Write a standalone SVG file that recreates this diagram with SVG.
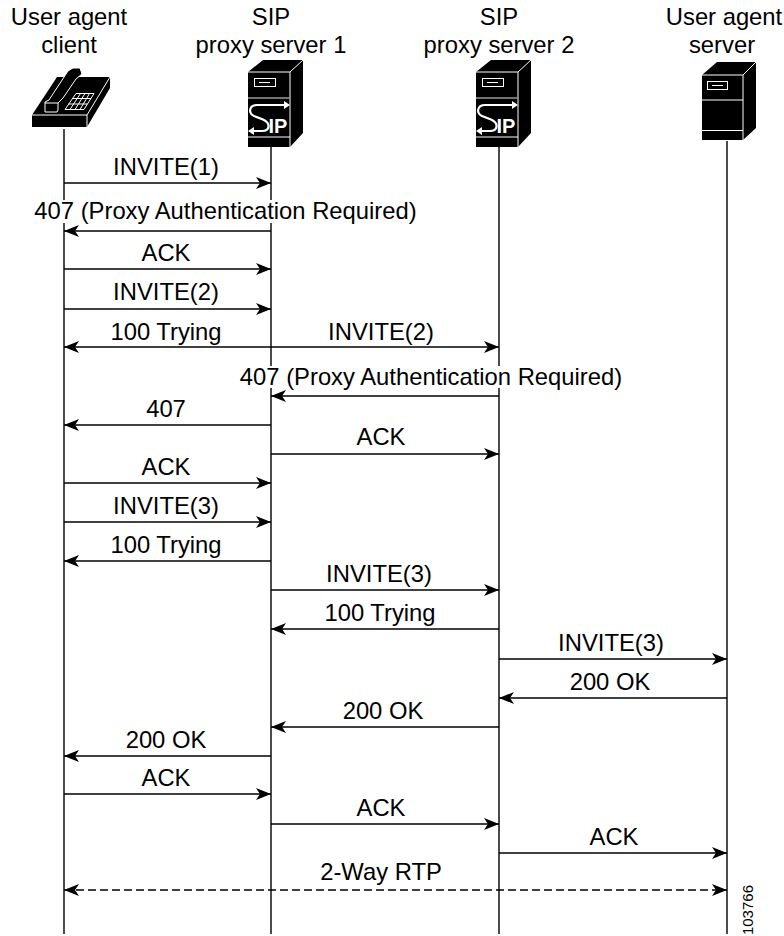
<svg xmlns="http://www.w3.org/2000/svg" xmlns:xlink="http://www.w3.org/1999/xlink" width="784" height="936" viewBox="0 0 784 936">
<style>
text{font-family:"Liberation Sans",Arial,sans-serif;font-size:23.800px;fill:#000;text-anchor:middle}
.life{stroke:#000;stroke-width:1.400;fill:none}
.msg{stroke:#000;stroke-width:1.400;fill:none;marker-end:url(#ah)}
.both{marker-start:url(#ah)}
.dash{stroke-dasharray:8 4}
.w{stroke:#fff;fill:none}
.k{fill:#000}
</style>
<defs>
<marker id="ah" markerUnits="userSpaceOnUse" markerWidth="16" markerHeight="14" refX="15" refY="7" orient="auto-start-reverse"><path d="M15,7 L0,1 L4,7 L0,13Z" fill="#000"/></marker>
<g id="sipserver">
<path class="k" d="M248,72 L263,60 L303,60 L303,133 L290,147 L248,147Z"/>
<path class="w" stroke-width="1" d="M248,72 H290 L303,60 M290,72 V147"/>
<rect class="w" stroke-width="1" x="254.500" y="78.500" width="21" height="8"/>
<path class="w" stroke-width="1" d="M259,82.500 H270"/>
<path stroke="#999" stroke-width="1.500" fill="none" d="M248,98 H290"/>
<path class="w" stroke-width="1" d="M248,137 H290"/>
<path class="w" stroke-width="2.200" d="M286,105 H257 C249,105 248,113 254,116 L263,119.500 C271,123 270,131 262,131 H252"/>
<path fill="#fff" d="M290,105 L284,101 V109Z M248,131 L254,127 V135Z"/>
<text x="278" y="132.500" style="font-size:20px;fill:#fff;font-weight:bold">IP</text>
</g>
</defs>
<rect width="784" height="936" fill="#fff"/>
<g id="connectors">
<path class="life" d="M64,129 V934 M271,147 V934 M499,147 V934 M727,141 V934"/>
<path class="msg" d="M64,183 H271"/>
<path class="msg" d="M271,231 H64"/>
<path class="msg" d="M64,269 H271"/>
<path class="msg" d="M64,309 H271"/>
<path class="msg both" d="M64,347 H499"/>
<path class="msg" d="M499,396 H271"/>
<path class="msg" d="M271,425 H64"/>
<path class="msg" d="M271,454 H499"/>
<path class="msg" d="M64,483 H271"/>
<path class="msg" d="M64,522 H271"/>
<path class="msg" d="M271,561 H64"/>
<path class="msg" d="M271,590 H499"/>
<path class="msg" d="M499,629 H271"/>
<path class="msg" d="M499,659 H727"/>
<path class="msg" d="M727,698 H499"/>
<path class="msg" d="M499,727 H271"/>
<path class="msg" d="M271,756 H64"/>
<path class="msg" d="M64,794 H271"/>
<path class="msg" d="M271,824 H499"/>
<path class="msg" d="M499,853 H727"/>
<path class="msg both dash" d="M64,890 H727"/>
</g>
<g id="node-uac">
<text x="69" y="25">User agent</text>
<text x="69" y="53">client</text>
<path class="k" d="M32,115 L57,77 H110 V88 L87,127 H32Z"/>
<path class="w" stroke-width="1" d="M32,115 H87 L110,77 M87,115 V127"/>
<path d="M45,112 V102 L49,100 L68,71 L73,68 H80 L82,74 L76,79 L63,98 L58,103 V110 L57,112Z" fill="#000" stroke="#fff" stroke-width="1"/>
<path class="w" stroke-width="1" d="M45,103 H58"/>
<path class="w" stroke-width="1" d="M65,109.500 H84 L94,93.500 H76Z M68.500,104 H87.500 M72,98.500 H91 M70,109.500 L80.500,93.500 M75,109.500 L85,93.500 M80,109.500 L89.500,93.500"/>
</g>
<g id="node-proxy1">
<text x="271" y="25">SIP</text>
<text x="271" y="53">proxy server 1</text>
<use xlink:href="#sipserver" href="#sipserver"/>
</g>
<g id="node-proxy2">
<text x="499" y="25">SIP</text>
<text x="499" y="53">proxy server 2</text>
<use xlink:href="#sipserver" href="#sipserver" x="228"/>
</g>
<g id="node-uas">
<text x="724" y="25">User agent</text>
<text x="722" y="53">server</text>
<path class="k" d="M702,75 L717,62 H756 V128 L743,140 H702Z"/>
<path class="w" stroke-width="1" d="M702,75 H743 L756,62 M743,75 V140 M702,100 H743 M702,130.500 H743"/>
<rect class="w" stroke-width="1" x="707.500" y="81.500" width="20" height="8"/>
<path class="w" stroke-width="1" d="M712,85.500 H723"/>
</g>
<g id="labels">
<text x="166" y="175">INVITE(1)</text>
<rect x="34" y="200" width="383" height="23" fill="#fff"/>
<text x="225.500" y="219">407 (Proxy Authentication Required)</text>
<text x="166" y="261">ACK</text>
<text x="166" y="300">INVITE(2)</text>
<text x="166" y="340">100 Trying</text>
<text x="381" y="340">INVITE(2)</text>
<rect x="238" y="366" width="385" height="22" fill="#fff"/>
<text x="431" y="385">407 (Proxy Authentication Required)</text>
<text x="166" y="417">407</text>
<text x="381" y="445">ACK</text>
<text x="166" y="475">ACK</text>
<text x="166" y="514">INVITE(3)</text>
<text x="166" y="553">100 Trying</text>
<text x="379" y="582">INVITE(3)</text>
<text x="380" y="621">100 Trying</text>
<text x="611" y="651">INVITE(3)</text>
<text x="610" y="690">200 OK</text>
<text x="383" y="719">200 OK</text>
<text x="166" y="748">200 OK</text>
<text x="166" y="786">ACK</text>
<text x="381" y="816">ACK</text>
<text x="614" y="845">ACK</text>
<text x="381" y="880">2-Way RTP</text>
<text transform="translate(753,885) rotate(-90)" style="font-size:15px;text-anchor:end">103766</text>
</g>
</svg>
